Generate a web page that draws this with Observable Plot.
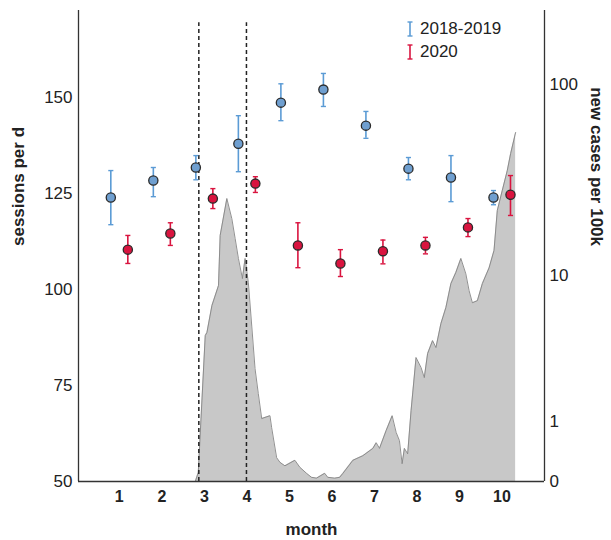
<!DOCTYPE html>
<html>
<head>
<meta charset="utf-8">
<script src="https://cdn.jsdelivr.net/npm/d3@7"></script>
<script src="https://cdn.jsdelivr.net/npm/@observablehq/plot@0.6"></script>
<style>
  body { margin: 0; background: #fff; }
  #wrap { position: relative; width: 611px; height: 540px; font-family: "Liberation Sans", Arial, sans-serif; }
  #legend { position: absolute; left: 406px; top: 17px; font-size: 17px; color: #222; line-height: 23px; }
  #legend div { display: flex; align-items: center; }
  #legend svg { margin-right: 6px; }
</style>
</head>
<body>
<div id="wrap">
  <div id="chart"></div>
  <div id="legend"></div>
</div>
<script>
// ---- data ----
const months = [1, 2, 3, 4, 5, 6, 7, 8, 9, 10];
const series = ["2018-2019", "2020"];
const seriesColors = ["#5b9bd5", "#d9143f"];
const seriesFill = ["#6f9fd0", "#d9143f"];

const mean1819 = [124.0, 128.4, 131.8, 138.0, 148.7, 152.1, 142.7, 131.5, 129.2, 124.0];
const lo1819   = [116.9, 124.2, 128.6, 130.7, 144.0, 147.7, 139.4, 128.6, 122.9, 122.1];
const hi1819   = [131.0, 131.8, 134.9, 145.3, 153.6, 156.3, 146.4, 134.4, 134.9, 125.8];

const mean2020 = [110.4, 114.6, 123.7, 127.6, 111.5, 106.8, 110.0, 111.5, 116.2, 124.7];
const lo2020   = [106.8, 111.5, 121.1, 125.3, 105.7, 103.4, 106.7, 109.3, 113.8, 119.3];
const hi2020   = [114.1, 117.4, 126.3, 129.4, 117.4, 110.4, 112.9, 113.6, 118.5, 129.7];

// daily new cases per 100k (2020), month position
const caseMonth = [2.5, 2.787, 2.857, 3.021, 3.061, 3.178, 3.333, 3.372, 3.529, 3.646, 3.724, 3.801, 3.895, 3.958, 4.035, 4.115, 4.192, 4.269, 4.349, 4.543, 4.583, 4.700, 4.778, 4.895, 5.129, 5.246, 5.403, 5.520, 5.637, 5.831, 5.902, 6.066, 6.183, 6.260, 6.494, 6.728, 6.963, 7.042, 7.119, 7.276, 7.417, 7.511, 7.588, 7.651, 7.705, 7.782, 7.862, 7.979, 8.096, 8.173, 8.251, 8.368, 8.447, 8.564, 8.681, 8.799, 8.916, 9.033, 9.150, 9.227, 9.304, 9.422, 9.539, 9.696, 9.813, 9.890, 10.007, 10.124, 10.204, 10.321];
const caseValue = [0, 0, 0.11, 4.46, 4.66, 6.74, 8.77, 16.5, 25.9, 20.3, 15.9, 12.4, 9.6, 12.4, 9.1, 5.1, 2.72, 1.78, 1.08, 1.15, 0.87, 0.32, 0.25, 0.20, 0.28, 0.18, 0.10, 0.05, 0.04, 0.10, 0.05, 0.04, 0.05, 0.10, 0.28, 0.35, 0.47, 0.57, 0.47, 0.81, 1.15, 0.77, 0.61, 0.23, 0.47, 0.38, 1.28, 3.23, 2.77, 2.35, 3.43, 4.15, 3.75, 5.28, 6.57, 9.0, 10.4, 12.4, 10.2, 8.2, 7.0, 7.2, 9.0, 11.0, 13.7, 22.4, 28.5, 36.2, 44.4, 57.0];

const lockdownStart = [2.87, 3.99];
const leftTicks = [50, 75, 100, 125, 150];
const rightTicks = [0, 1, 10, 100];

// ---- helpers ----
const yDomain = [50, 172.7];
const xDomain = [0.04, 11];
const perDecade = 51.56;            // left-axis units per decade of (1 + cases)
const yCase = c => yDomain[0] + Math.log10(1 + c) * perDecade;
const rightLabel = new Map(rightTicks.map(t => [yCase(t), String(t)]));

const pts = [];
series.forEach((s, si) => {
  const mean = si === 0 ? mean1819 : mean2020;
  const lo = si === 0 ? lo1819 : lo2020;
  const hi = si === 0 ? hi1819 : hi2020;
  months.forEach((m, i) => pts.push({series: s, si, x: m + (si === 0 ? -0.2 : 0.2), mean: mean[i], lo: lo[i], hi: hi[i]}));
});
const cases = caseMonth.map((m, i) => ({m, c: caseValue[i]}));
const capW = 0.06;
const font = "Liberation Sans, Arial, sans-serif";

const chart = Plot.plot({
  width: 611,
  height: 540,
  marginLeft: 78,
  marginRight: 67,
  marginTop: 10,
  marginBottom: 59,
  style: {fontFamily: font, color: "#222", background: "#fff"},
  x: {domain: xDomain},
  y: {domain: yDomain},
  marks: [
    Plot.areaY(cases, {x: "m", y1: yDomain[0], y2: d => yCase(d.c), fill: "#c8c8c8"}),
    Plot.line(cases, {x: "m", y: d => yCase(d.c), stroke: "#858585", strokeWidth: 0.9}),
    Plot.ruleX(lockdownStart, {y1: yDomain[0], y2: 169.5, stroke: "#222", strokeWidth: 1.5, strokeDasharray: "4,3"}),
    Plot.ruleX(pts, {x: "x", y1: "lo", y2: "hi", stroke: d => seriesColors[d.si], strokeWidth: 1.6}),
    Plot.link(pts, {x1: d => d.x - capW, x2: d => d.x + capW, y1: "hi", y2: "hi", stroke: d => seriesColors[d.si], strokeWidth: 1.4}),
    Plot.link(pts, {x1: d => d.x - capW, x2: d => d.x + capW, y1: "lo", y2: "lo", stroke: d => seriesColors[d.si], strokeWidth: 1.4}),
    Plot.dot(pts, {x: "x", y: "mean", r: 4.6, fill: d => seriesFill[d.si], stroke: "#2a2a2a", strokeWidth: 1.3}),
    Plot.ruleY([yDomain[0]], {stroke: "#333", strokeWidth: 1.3}),
    Plot.ruleX(xDomain, {stroke: "#333", strokeWidth: 1.3}),
    Plot.axisY({anchor: "left", ticks: leftTicks, tickSize: 0, tickPadding: 6, fontSize: 17, label: null}),
    Plot.axisY({anchor: "right", ticks: rightTicks.map(yCase), tickFormat: d => rightLabel.get(d), tickSize: 0, tickPadding: 5, fontSize: 17, label: null}),
    Plot.axisX({ticks: months, tickFormat: d => String(d), tickSize: 0, tickPadding: 9, fontSize: 16, fontWeight: "bold", label: null}),
    Plot.text(["month"], {frameAnchor: "bottom", dy: 48, text: d => d, fontSize: 17, fontWeight: "bold", lineAnchor: "middle"}),
    Plot.text(["sessions per d"], {frameAnchor: "left", dx: -60, text: d => d, rotate: -90, fontSize: 17, fontWeight: "bold", lineAnchor: "middle"}),
    Plot.text(["new cases per 100k"], {frameAnchor: "right", dx: 52, text: d => d, rotate: 90, fontSize: 17, fontWeight: "bold", lineAnchor: "middle"})
  ]
});
document.getElementById("chart").appendChild(chart);

// legend
const legend = document.getElementById("legend");
series.forEach((s, i) => {
  const row = document.createElement("div");
  row.innerHTML = `<svg width="8" height="16"><line x1="4" x2="4" y1="1" y2="15" stroke="${seriesColors[i]}" stroke-width="1.6"/><line x1="1.5" x2="6.5" y1="1" y2="1" stroke="${seriesColors[i]}" stroke-width="1.4"/><line x1="1.5" x2="6.5" y1="15" y2="15" stroke="${seriesColors[i]}" stroke-width="1.4"/></svg><span>${s}</span>`;
  legend.appendChild(row);
});
</script>
</body>
</html>
